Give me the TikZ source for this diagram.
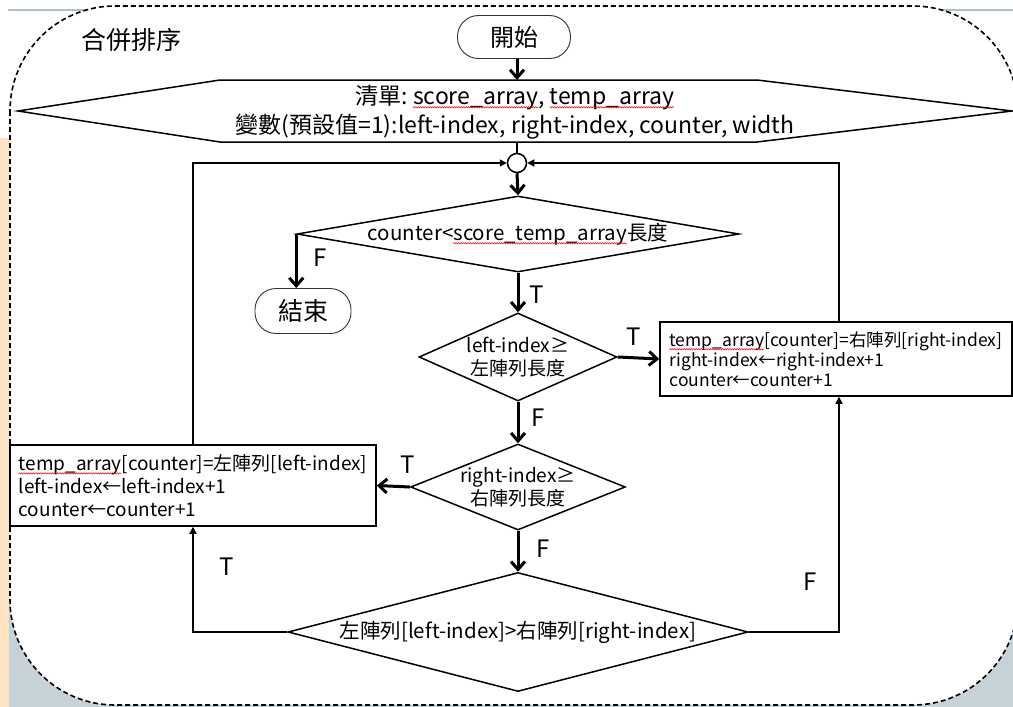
\documentclass[tikz,border=0pt]{standalone}
\usepackage{fontspec}
\setmainfont{Noto Sans CJK TC}
\usetikzlibrary{shapes.geometric,arrows.meta,decorations.pathmorphing}
\newsavebox\wavebox
\newcommand\redwave[1]{\sbox\wavebox{#1}\usebox\wavebox\llap{\tikz[x=1pt,y=1pt,baseline=0pt]\draw[red,line width=0.5pt,solid,decorate,decoration={zigzag,amplitude=0.7pt,segment length=2.4pt}] (0,-3) -- (\the\wd\wavebox,-3);}}
\definecolor{bggray}{HTML}{C7D1D8}
\definecolor{bgorange}{HTML}{FDE3C4}
\definecolor{topline}{HTML}{AFC0CB}
\begin{document}
\begin{tikzpicture}[x=1pt,y=-1pt,
  shapeline/.style={draw=black,line width=1.5pt},
  term/.style={draw=black!80,line width=0.9pt,rounded corners=21pt,font=\fontsize{24}{28}\selectfont},
  dec/.style={diamond,shapeline,inner sep=0pt,align=center},
  procbox/.style={rectangle,shapeline,inner sep=0pt,align=left},
  tarrow/.style={line width=3pt,-{Straight Barb[length=8pt,width=14pt]}},
  narrow/.style={line width=1.4pt,-{Triangle[length=7pt,width=7pt]}},
  lbl/.style={font=\fontsize{24}{28}\selectfont,inner sep=0pt},
  frame/.style={draw=black,line width=1.6pt,dash pattern=on 5pt off 3pt}]
\clip (0,0) rectangle (1013,707);
\useasboundingbox (0,0) rectangle (1013,707);
% slide background
\fill[bgorange] (0,138) rectangle (9,707);
\fill[bggray] (9,600) rectangle (1013,707);
\draw[topline,line width=1.5pt] (8,10) -- (120,10);
\draw[topline,line width=1.5pt] (930,10) -- (1013,10);
\fill[white,rounded corners=105pt] (10,6) rectangle (1018,705);
\draw[frame,rounded corners=105pt] (10,6) rectangle (1018,705);
% title
\node[anchor=west,font=\fontsize{25}{28}\selectfont,inner sep=0pt] (title) at (81,40) {合併排序};
% start
\node[term,minimum width=113pt,minimum height=43pt] (start) at (514,37) {開始};
% hexagon
\coordinate (hexT) at (517,80);
\coordinate (hexB) at (517,142);
\draw[shapeline] (18,111) -- (220,80) -- (757,80) -- (1012,111) -- (757,142) -- (220,142) -- cycle;
\node[font=\fontsize{23}{29}\selectfont,align=center,inner sep=0pt] (hex) at (515,112)
  {清單:~\redwave{score\_array}, \redwave{temp\_array}\\變數(預設值=1):left-index, right-index, counter, width};
% junction
\node[circle,draw=black,line width=1.5pt,minimum size=19pt,inner sep=0pt] (jn) at (517,163) {};
% decisions
\node[dec,aspect=5.8,minimum width=442pt,minimum height=76pt,font=\fontsize{20.5}{24}\selectfont] (d1) at (518,234) {counter<\redwave{score\_temp\_array}長度};
\node[term,minimum width=96pt,minimum height=45pt,font=\fontsize{25}{28}\selectfont] (end) at (303,311) {結束};
\node[dec,aspect=2.25,minimum width=198pt,minimum height=88pt,font=\fontsize{19}{23}\selectfont] (d2) at (518,357) {left-index≥\\左陣列長度};
\node[procbox,minimum width=352pt,minimum height=74pt,font=\fontsize{17.5}{20}\selectfont] (rbox) at (836,359)
  {\redwave{temp\_array}[counter]=右陣列[right-index]\\right-index←right-index+1\\counter←counter+1};
\node[dec,aspect=2.5,minimum width=214pt,minimum height=86pt,font=\fontsize{19}{23}\selectfont] (d3) at (518,487) {right-index≥\\右陣列長度};
\node[procbox,minimum width=366pt,minimum height=81pt,font=\fontsize{19}{23}\selectfont] (lbox) at (193,485.5)
  {\redwave{temp\_array}[counter]=左陣列[left-index]\\left-index←left-index+1\\counter←counter+1};
\node[dec,aspect=3.87,minimum width=460pt,minimum height=119pt,font=\fontsize{20.5}{24}\selectfont] (d4) at (518,632) {左陣列[left-index]>右陣列[right-index]};
% connectors
\draw[tarrow] (start.south -| hexT) -- (hexT);
\draw[shapeline] (hexB) -- (jn.north);
\draw[tarrow] (jn.south) -- (d1.north);
\draw[tarrow] (d1.west) -- (d1.west |- end.north);
\draw[tarrow] (d1.south) -- (d2.north);
\draw[tarrow] (d2.east) -- (rbox.west);
\draw[tarrow] (d2.south) -- (d3.north);
\draw[tarrow] (d3.west) -- (lbox.east);
\draw[tarrow] (d3.south) -- (d4.north);
\draw[narrow] (lbox.north) |- (jn.west);
\draw[narrow] ([xshift=3pt]rbox.north) |- (jn.east);
\draw[narrow] (d4.west) -| (lbox.south);
\draw[narrow] (d4.east) -| ([xshift=3pt]rbox.south);
% labels
\node[lbl] (lF1) at (320,258) {F};
\node[lbl] (lT1) at (537,295) {T};
\node[lbl] (lT2) at (634,337) {T};
\node[lbl] (lF2) at (538,418) {F};
\node[lbl] (lT3) at (408,465) {T};
\node[lbl] (lF3) at (543,549) {F};
\node[lbl] (lT4) at (227,567) {T};
\node[lbl] (lF4) at (810,582) {F};
\end{tikzpicture}
\end{document}
